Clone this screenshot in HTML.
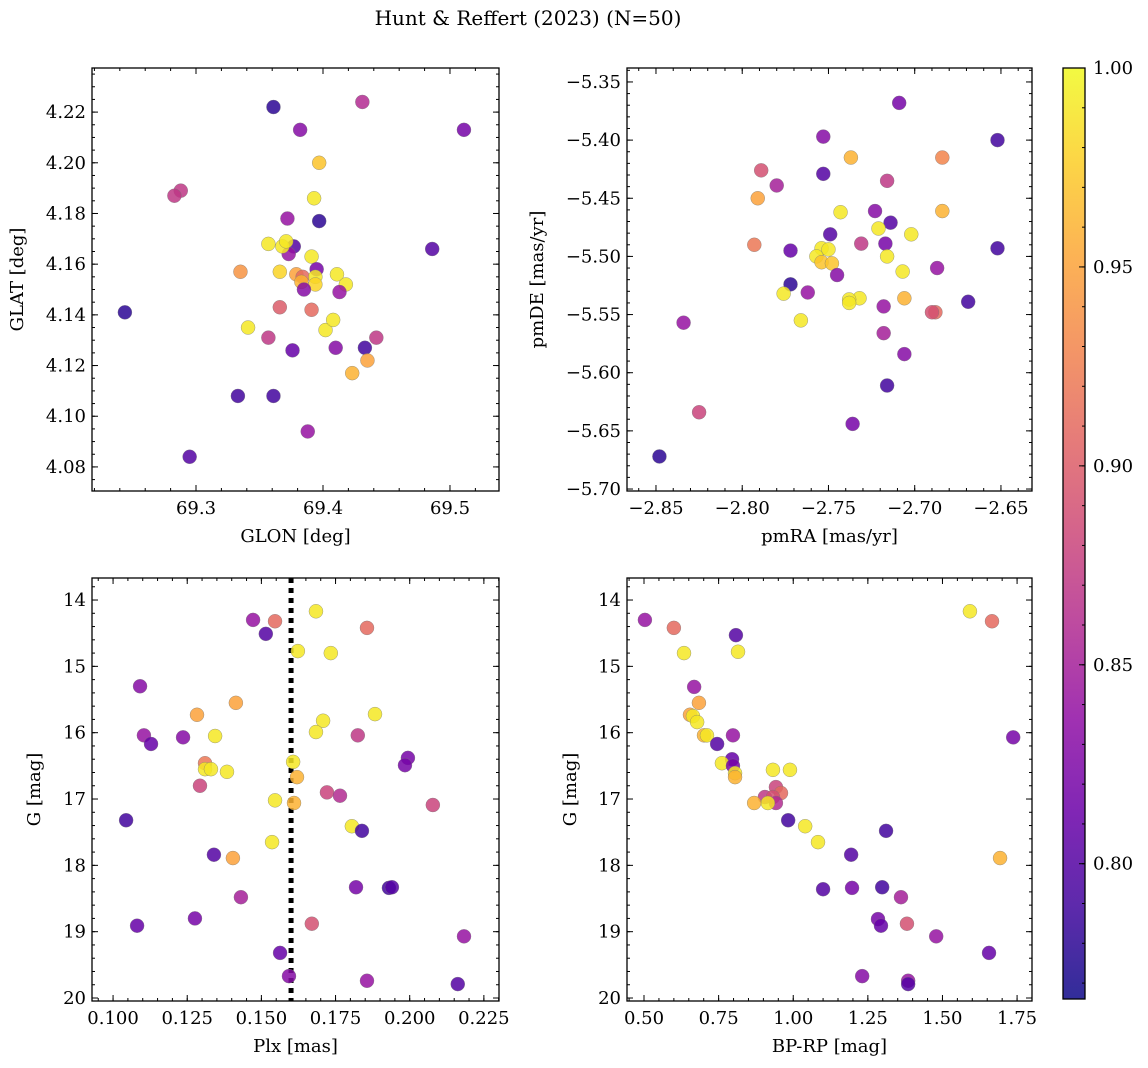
<!DOCTYPE html>
<html><head><meta charset="utf-8"><style>
body{margin:0;background:#fff;}
svg{display:block;font-family:"DejaVu Serif","Liberation Serif",serif;}
</style></head><body>
<svg id="fig" width="1148" height="1068" viewBox="0 0 1148 1068" xmlns="http://www.w3.org/2000/svg">
<text x="528" y="25" font-size="20" text-anchor="middle">Hunt &amp; Reffert (2023) (N=50)</text>
<defs><linearGradient id="plasma" x1="0" y1="1" x2="0" y2="0"></linearGradient></defs>
</svg>
<script>
// ---- Panel 1: GLON vs GLAT ----
const glon=[69.361,69.431,69.382,69.511,69.397,69.288,69.283,69.393,69.372,69.397,69.486,69.377,69.357,69.391,69.373,69.335,69.379,69.384,69.395,69.383,69.394,69.394,69.411,69.418,69.385,69.413,69.391,69.366,69.244,69.341,69.357,69.402,69.442,69.376,69.410,69.433,69.408,69.423,69.435,69.333,69.361,69.388,69.295,69.366,69.368,69.371];
const glat=[4.222,4.224,4.213,4.213,4.200,4.189,4.187,4.186,4.178,4.177,4.166,4.167,4.168,4.163,4.164,4.157,4.156,4.155,4.158,4.153,4.155,4.152,4.156,4.152,4.150,4.149,4.142,4.143,4.141,4.135,4.131,4.134,4.131,4.126,4.127,4.127,4.138,4.117,4.122,4.108,4.108,4.094,4.084,4.157,4.167,4.169];
const prob1=[0.78,0.86,0.83,0.82,0.97,0.87,0.87,0.99,0.84,0.78,0.80,0.80,0.99,0.99,0.84,0.94,0.95,0.91,0.82,0.96,0.99,0.98,0.99,0.99,0.83,0.84,0.91,0.90,0.78,0.99,0.87,0.99,0.87,0.81,0.83,0.79,0.99,0.96,0.95,0.79,0.79,0.84,0.80,0.98,0.99,0.99];
// ---- Panel 2: pmRA vs pmDE ----
const pmra=[-2.709,-2.652,-2.753,-2.737,-2.684,-2.789,-2.716,-2.780,-2.791,-2.753,-2.743,-2.723,-2.684,-2.714,-2.749,-2.702,-2.721,-2.717,-2.731,-2.652,-2.793,-2.772,-2.754,-2.750,-2.757,-2.754,-2.748,-2.716,-2.707,-2.687,-2.745,-2.772,-2.762,-2.776,-2.732,-2.738,-2.738,-2.706,-2.718,-2.669,-2.688,-2.690,-2.766,-2.718,-2.834,-2.706,-2.716,-2.825,-2.736,-2.848];
const pmde=[-5.368,-5.400,-5.397,-5.415,-5.415,-5.426,-5.435,-5.439,-5.450,-5.429,-5.462,-5.461,-5.461,-5.471,-5.481,-5.481,-5.476,-5.489,-5.489,-5.493,-5.490,-5.495,-5.493,-5.494,-5.500,-5.505,-5.506,-5.500,-5.513,-5.510,-5.516,-5.524,-5.531,-5.532,-5.536,-5.537,-5.540,-5.536,-5.543,-5.539,-5.548,-5.548,-5.555,-5.566,-5.557,-5.584,-5.611,-5.634,-5.644,-5.672];
const prob2=[0.82,0.79,0.83,0.96,0.93,0.89,0.87,0.85,0.95,0.80,0.99,0.83,0.96,0.80,0.80,0.99,0.99,0.82,0.87,0.79,0.92,0.81,0.99,0.99,0.99,0.97,0.97,0.99,0.99,0.84,0.83,0.78,0.84,0.99,0.99,0.99,0.99,0.96,0.84,0.79,0.91,0.89,0.99,0.85,0.84,0.83,0.79,0.88,0.82,0.78];
// ---- Panel 3: Plx vs G ----
const plx=[0.1684,0.1472,0.1546,0.1856,0.1515,0.1623,0.1734,0.1091,0.1414,0.1283,0.1883,0.1708,0.1684,0.1104,0.1344,0.1825,0.1236,0.1128,0.1994,0.1984,0.1310,0.1607,0.1310,0.1330,0.1384,0.1620,0.1293,0.1721,0.1765,0.1546,0.1610,0.2078,0.1044,0.1805,0.1839,0.1536,0.1340,0.1404,0.1819,0.1930,0.1940,0.1431,0.1276,0.1670,0.1081,0.2183,0.1563,0.1593,0.1856,0.2162];
const gmag3=[14.17,14.30,14.32,14.42,14.51,14.77,14.80,15.30,15.55,15.73,15.72,15.82,15.99,16.04,16.05,16.04,16.07,16.17,16.38,16.49,16.46,16.44,16.55,16.55,16.59,16.67,16.80,16.90,16.95,17.02,17.06,17.09,17.32,17.41,17.48,17.65,17.84,17.89,18.33,18.34,18.33,18.48,18.80,18.88,18.91,19.07,19.32,19.67,19.74,19.79];
const prob3=[0.99,0.84,0.91,0.91,0.80,0.99,0.99,0.83,0.95,0.95,0.99,0.99,0.99,0.84,0.99,0.87,0.83,0.81,0.82,0.82,0.92,0.99,0.99,0.99,0.99,0.96,0.88,0.88,0.86,0.99,0.96,0.88,0.79,0.99,0.79,0.99,0.80,0.95,0.82,0.79,0.80,0.85,0.82,0.89,0.81,0.84,0.81,0.83,0.84,0.80];
const plxMedian=0.160;
// ---- Panel 4: BP-RP vs G ----
const bprp=[0.503,0.600,1.592,1.666,0.808,0.634,0.815,0.668,0.684,0.654,0.664,0.678,0.701,0.711,0.798,1.737,0.745,0.795,0.761,0.798,0.805,0.805,0.932,0.989,0.942,0.959,0.905,0.932,0.942,0.915,0.869,0.983,1.040,1.083,1.311,1.693,1.194,1.197,1.298,1.100,1.361,1.284,1.381,1.294,1.479,1.656,1.231,1.385,1.385];
const gmag4=[14.30,14.42,14.17,14.32,14.53,14.80,14.78,15.31,15.55,15.73,15.75,15.84,16.04,16.04,16.04,16.07,16.17,16.40,16.46,16.50,16.61,16.67,16.56,16.56,16.82,16.91,16.97,16.97,17.06,17.06,17.06,17.32,17.41,17.65,17.48,17.89,17.84,18.34,18.33,18.36,18.48,18.81,18.88,18.91,19.07,19.32,19.67,19.74,19.79];
const prob4=[0.84,0.91,0.99,0.91,0.80,0.99,0.99,0.84,0.95,0.95,0.99,0.99,0.96,0.99,0.84,0.82,0.80,0.81,0.99,0.82,0.99,0.96,0.99,0.99,0.88,0.91,0.87,0.89,0.86,0.99,0.96,0.79,0.99,0.99,0.79,0.96,0.80,0.82,0.79,0.80,0.85,0.82,0.89,0.81,0.84,0.81,0.83,0.84,0.80];
// ---- Axis ticks ----
const p1xTicks=[69.3,69.4,69.5], p1xLabels=["69.3","69.4","69.5"];
const p1yTicks=[4.08,4.10,4.12,4.14,4.16,4.18,4.20,4.22], p1yLabels=["4.08","4.10","4.12","4.14","4.16","4.18","4.20","4.22"];
const p2xTicks=[-2.85,-2.80,-2.75,-2.70,-2.65], p2xLabels=["−2.85","−2.80","−2.75","−2.70","−2.65"];
const p2yTicks=[-5.70,-5.65,-5.60,-5.55,-5.50,-5.45,-5.40,-5.35], p2yLabels=["−5.70","−5.65","−5.60","−5.55","−5.50","−5.45","−5.40","−5.35"];
const p3xTicks=[0.100,0.125,0.150,0.175,0.200,0.225], p3xLabels=["0.100","0.125","0.150","0.175","0.200","0.225"];
const gTicks=[14,15,16,17,18,19,20], gLabels=["14","15","16","17","18","19","20"];
const p4xTicks=[0.50,0.75,1.00,1.25,1.50,1.75], p4xLabels=["0.50","0.75","1.00","1.25","1.50","1.75"];
const cbTicks=[0.80,0.85,0.90,0.95,1.00], cbLabels=["0.80","0.85","0.90","0.95","1.00"];
const cbMin=0.766, cbMax=1.0;

const NS="http://www.w3.org/2000/svg";
const svg=document.getElementById('fig');
const FS=18;
function mk(tag,attrs,parent){const e=document.createElementNS(NS,tag);for(const k in attrs)e.setAttribute(k,attrs[k]);(parent||svg).appendChild(e);return e;}
const stops=[[13,8,135],[65,4,157],[106,0,168],[143,13,164],[177,42,144],[204,71,120],[225,100,98],[242,132,75],[252,166,54],[252,206,37],[240,249,33]];
function plasma(t){t=Math.max(0,Math.min(1,t));const f=t*10,i=Math.min(9,Math.floor(f)),u=f-i;const a=stops[i],b=stops[i+1];return `rgb(${Math.round(a[0]+(b[0]-a[0])*u)},${Math.round(a[1]+(b[1]-a[1])*u)},${Math.round(a[2]+(b[2]-a[2])*u)})`;}
function cmap(p){return plasma((p-cbMin)/(cbMax-cbMin));}

function panel(cfg){
  const {name,x0,x1,y0,y1,xmin,xmax,ymin,ymax,invY}=cfg;
  const sx=v=>x0+(v-xmin)/(xmax-xmin)*(x1-x0);
  const sy=v=>invY? y0+(v-ymin)/(ymax-ymin)*(y1-y0) : y1-(v-ymin)/(ymax-ymin)*(y1-y0);
  const g=mk('g',{});
  
  
  if(cfg.vline!==undefined){
    const l=mk('line',{x1:sx(cfg.vline),x2:sx(cfg.vline),y1:y0,y2:y1,stroke:'#000','stroke-width':5,'stroke-dasharray':'5,5'},g);
    
    
  }
  for(let i=0;i<cfg.xs.length;i++){
    const c=mk('circle',{cx:sx(cfg.xs[i]),cy:sy(cfg.ys[i]),r:7,fill:cmap(cfg.ps[i]),'fill-opacity':0.85,stroke:'#777','stroke-width':0.5,'stroke-opacity':0.7},g);
    
    
  }
  const fr=mk('rect',{x:x0,y:y0,width:x1-x0,height:y1-y0,fill:'none',stroke:'#000','stroke-width':1.3},g);
  
  
  const xm=cfg.xMinor;
  for(let v=Math.ceil(xmin/xm-1e-6)*xm; v<=xmax+1e-9; v+=xm){const X=sx(v);mk('line',{x1:X,x2:X,y1:y1,y2:y1-3,stroke:'#000'},g);mk('line',{x1:X,x2:X,y1:y0,y2:y0+3,stroke:'#000'},g);}
  cfg.xTicks.forEach((v,i)=>{const X=sx(v);mk('line',{x1:X,x2:X,y1:y1,y2:y1-6,stroke:'#000'},g);mk('line',{x1:X,x2:X,y1:y0,y2:y0+6,stroke:'#000'},g);
    const t=mk('text',{x:X,y:y1+23,'font-size':FS,'text-anchor':'middle'},g);t.textContent=cfg.xLabels[i];
    
    });
  const ym=cfg.yMinor;
  for(let v=Math.ceil(ymin/ym-1e-6)*ym; v<=ymax+1e-9; v+=ym){const Y=sy(v);mk('line',{x1:x0,x2:x0+3,y1:Y,y2:Y,stroke:'#000'},g);mk('line',{x1:x1,x2:x1-3,y1:Y,y2:Y,stroke:'#000'},g);}
  cfg.yTicks.forEach((v,i)=>{const Y=sy(v);mk('line',{x1:x0,x2:x0+6,y1:Y,y2:Y,stroke:'#000'},g);mk('line',{x1:x1,x2:x1-6,y1:Y,y2:Y,stroke:'#000'},g);
    const t=mk('text',{x:x0-6,y:Y+6,'font-size':FS,'text-anchor':'end'},g);t.textContent=cfg.yLabels[i];
    
    });
  const xl=mk('text',{x:(x0+x1)/2,y:y1+51,'font-size':FS,'text-anchor':'middle'},g);xl.textContent=cfg.xTitle;
  
  
  const yx=cfg.yTitleX, yc=(y0+y1)/2;
  const yl=mk('text',{x:yx,y:yc,'font-size':FS,'text-anchor':'middle',transform:`rotate(-90 ${yx} ${yc})`},g);yl.textContent=cfg.yTitle;
  
  
}
panel({name:'panel-sky-position',x0:92,x1:499,y0:68,y1:491,xmin:69.2181,xmax:69.5386,ymin:4.0705,ymax:4.2374,xs:glon,ys:glat,ps:prob1,xTicks:p1xTicks,xLabels:p1xLabels,yTicks:p1yTicks,yLabels:p1yLabels,xMinor:0.02,yMinor:0.005,xTitle:'GLON [deg]',yTitle:'GLAT [deg]',yTitleX:23});
panel({name:'panel-proper-motion',x0:627,x1:1032,y0:68,y1:491,xmin:-2.8668,xmax:-2.632,ymin:-5.7017,ymax:-5.338,xs:pmra,ys:pmde,ps:prob2,xTicks:p2xTicks,xLabels:p2xLabels,yTicks:p2yTicks,yLabels:p2yLabels,xMinor:0.01,yMinor:0.01,xTitle:'pmRA [mas/yr]',yTitle:'pmDE [mas/yr]',yTitleX:543});
panel({name:'panel-parallax-mag',x0:92,x1:499,y0:578,y1:1001,xmin:0.0929,xmax:0.2301,ymin:13.668,ymax:20.045,invY:true,xs:plx,ys:gmag3,ps:prob3,xTicks:p3xTicks,xLabels:p3xLabels,yTicks:gTicks,yLabels:gLabels,xMinor:0.005,yMinor:0.2,xTitle:'Plx [mas]',yTitle:'G [mag]',yTitleX:40,vline:plxMedian});
panel({name:'panel-cmd',x0:627,x1:1032,y0:578,y1:1001,xmin:0.443,xmax:1.800,ymin:13.668,ymax:20.045,invY:true,xs:bprp,ys:gmag4,ps:prob4,xTicks:p4xTicks,xLabels:p4xLabels,yTicks:gTicks,yLabels:gLabels,xMinor:0.05,yMinor:0.2,xTitle:'BP-RP [mag]',yTitle:'G [mag]',yTitleX:576});
const grad=document.getElementById('plasma');
for(let i=0;i<=10;i++){mk('stop',{offset:(i*10)+'%','stop-color':plasma(i/10),'stop-opacity':0.85},grad);}
const cb=mk('g',{});


const cy0=68,cy1=999,cx0=1063,cx1=1085;
mk('rect',{x:cx0,y:cy0,width:cx1-cx0,height:cy1-cy0,fill:'url(#plasma)',stroke:'#000','stroke-width':1.3},cb);
const cys=v=>cy1-(v-cbMin)/(cbMax-cbMin)*(cy1-cy0);
for(let v=0.77;v<=1.0001;v+=0.01){const Y=cys(v);mk('line',{x1:cx1,x2:cx1-3,y1:Y,y2:Y,stroke:'#000'},cb);}
cbTicks.forEach((v,i)=>{const Y=cys(v);mk('line',{x1:cx1,x2:cx1-6,y1:Y,y2:Y,stroke:'#000'},cb);
  const t=mk('text',{x:cx1+8,y:Y+6,'font-size':FS},cb);t.textContent=cbLabels[i];
  
  });
</script>
</body></html>
